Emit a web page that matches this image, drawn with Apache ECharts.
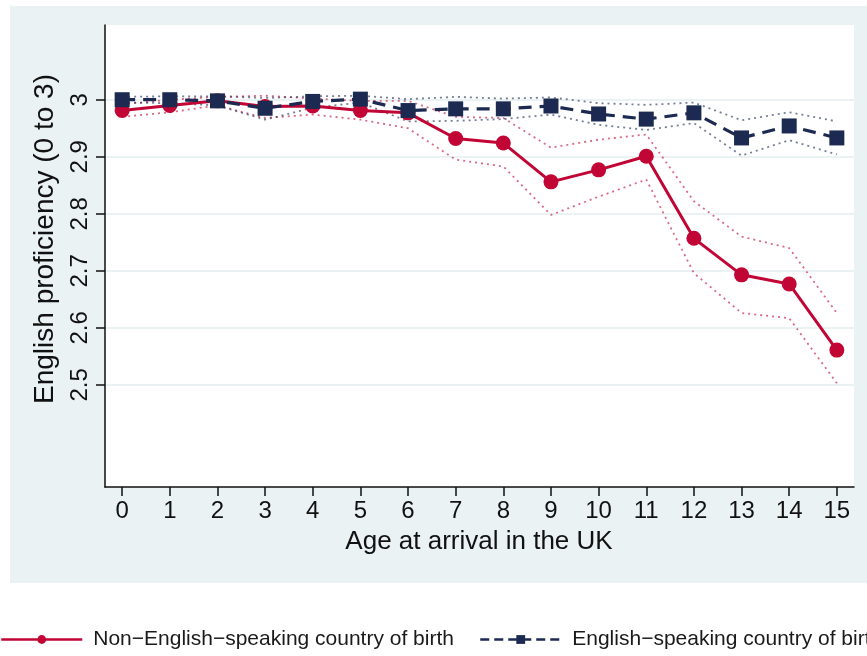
<!DOCTYPE html>
<html>
<head>
<meta charset="utf-8">
<script src="https://cdn.jsdelivr.net/npm/echarts@6/dist/echarts.min.js"></script>
<style>
html,body{margin:0;padding:0;background:#fff;}
#chart{width:867px;height:656px;}
</style>
</head>
<body>
<div id="chart"></div>
<script>
// ---- data ----
const ages = [0,1,2,3,4,5,6,7,8,9,10,11,12,13,14,15];
const xTicks = [0,1,2,3,4,5,6,7,8,9,10,11,12,13,14,15];
const yTicks = [2.5,2.6,2.7,2.8,2.9,3.0];
const nonEnglish = [2.981,2.990,2.998,2.988,2.989,2.981,2.977,2.932,2.924,2.856,2.877,2.901,2.757,2.693,2.677,2.561];
const nonEnglishUpper = [2.992,3.000,3.005,3.007,3.002,2.998,2.998,2.970,2.968,2.916,2.930,2.939,2.822,2.760,2.740,2.626];
const nonEnglishLower = [2.970,2.978,2.990,2.968,2.974,2.965,2.950,2.895,2.883,2.798,2.830,2.860,2.696,2.626,2.617,2.503];
const english = [3.000,3.000,2.998,2.985,2.997,3.001,2.981,2.984,2.984,2.989,2.975,2.966,2.977,2.933,2.954,2.933];
const englishUpper = [3.005,3.006,3.006,3.003,3.006,3.007,3.001,3.005,3.002,3.004,2.994,2.991,2.995,2.964,2.978,2.962];
const englishLower = [2.995,2.994,2.990,2.965,2.986,2.995,2.962,2.963,2.966,2.974,2.956,2.947,2.959,2.902,2.929,2.904];
const nameNon = 'Non\u2212English\u2212speaking country of birth';
const nameEng = 'English\u2212speaking country of birth';

const RED = '#C10534';
const NAVY = '#1C2A52';
const FONT = 'Liberation Sans, Arial, Helvetica, sans-serif';

function pairs(ys){ return ages.map((a,i)=>[a, ys[i]]); }

const chart = echarts.init(document.getElementById('chart'), null, {renderer:'canvas'});
chart.setOption({
  animation:false,
  backgroundColor:'#ffffff',
  textStyle:{fontFamily:FONT},
  graphic:[
    {type:'rect', z:-100, shape:{x:10, y:6, width:870, height:577}, style:{fill:'#EAF2F3'}},
    {type:'text', x:45, y:239, rotation:Math.PI/2,
      style:{text:'English proficiency (0 to 3)', font:'28px '+FONT, fill:'#111', align:'center', verticalAlign:'middle'}},
    {type:'text', x:479, y:542,
      style:{text:'Age at arrival in the UK', font:'26px '+FONT, fill:'#111', align:'center', verticalAlign:'middle'}}
  ],
  grid:{left:105, top:25, right:13, bottom:169, show:true, backgroundColor:'#ffffff', borderWidth:0},
  xAxis:{
    type:'value', min:-0.36, max:15.36,
    axisLine:{show:true, onZero:false, lineStyle:{color:'#111', width:1.5}},
    axisTick:{show:true, length:9, customValues:xTicks, lineStyle:{color:'#111', width:1.5}},
    axisLabel:{customValues:xTicks, fontSize:24, color:'#111', margin:12, fontFamily:FONT},
    splitLine:{show:false}
  },
  yAxis:{
    type:'value', min:2.321, max:3.131,
    axisLine:{show:true, onZero:false, lineStyle:{color:'#111', width:1.5}},
    axisTick:{show:true, length:9, customValues:yTicks, lineStyle:{color:'#111', width:1.5}},
    axisLabel:{customValues:yTicks, rotate:90, fontSize:24, color:'#111', margin:13, fontFamily:FONT,
      formatter:v=>{ const r=Math.round(v*10)/10; return r===3?'3':r.toFixed(1);} },
    splitLine:{show:true, lineStyle:{color:'#EAF2F3', width:2}}
  },
  legend:[
    {left:0, top:629, padding:0, itemWidth:81, itemHeight:11, itemGap:20, data:[nameNon],
      lineStyle:{width:2.5},
      textStyle:{fontSize:21, color:'#1a1a1a', fontFamily:FONT, padding:[0,0,0,6]}},
    {left:479, top:629, padding:0, itemWidth:81, itemHeight:11, itemGap:20, data:[nameEng],
      lineStyle:{width:2.5, type:[9,5]},
      textStyle:{fontSize:21, color:'#1a1a1a', fontFamily:FONT, padding:[0,0,0,6]}}
  ],
  series:[
    {name:'nu', type:'line', data:pairs(nonEnglishUpper), showSymbol:false, symbol:'none', silent:true, z:1,
      lineStyle:{color:'rgba(193,5,52,0.6)', width:1.8, type:[2,4]}},
    {name:'nl', type:'line', data:pairs(nonEnglishLower), showSymbol:false, symbol:'none', silent:true, z:1,
      lineStyle:{color:'rgba(193,5,52,0.6)', width:1.8, type:[2,4]}},
    {name:'eu', type:'line', data:pairs(englishUpper), showSymbol:false, symbol:'none', silent:true, z:1,
      lineStyle:{color:'rgba(28,42,82,0.6)', width:1.8, type:[2,4]}},
    {name:'el', type:'line', data:pairs(englishLower), showSymbol:false, symbol:'none', silent:true, z:1,
      lineStyle:{color:'rgba(28,42,82,0.6)', width:1.8, type:[2,4]}},
    {name:nameNon, type:'line', data:pairs(nonEnglish), symbol:'circle', symbolSize:15, z:3,
      itemStyle:{color:RED}, lineStyle:{color:RED, width:3}},
    {name:nameEng, type:'line', data:pairs(english), symbol:'rect', symbolSize:15, z:4,
      itemStyle:{color:NAVY}, lineStyle:{color:NAVY, width:3.2, type:[13,8]}}
  ]
});
</script>
</body>
</html>
